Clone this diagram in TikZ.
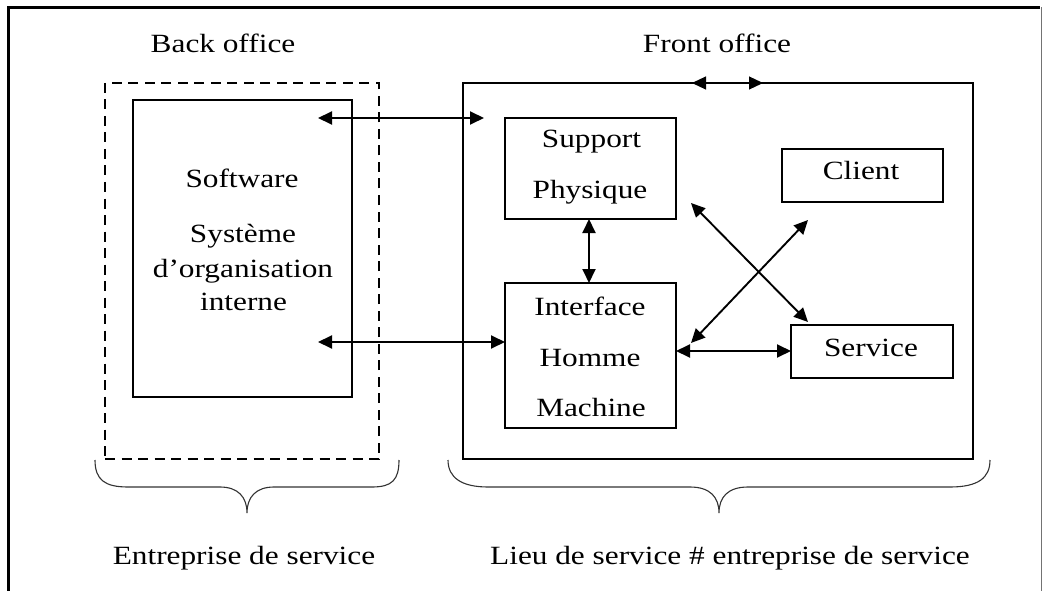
\documentclass[tikz,border=0pt]{standalone}
\usepackage{fontspec}
\setmainfont{Liberation Serif}[FakeStretch=1.19]
\usetikzlibrary{arrows.meta}
\tikzset{
  box/.style={draw, line width=1.4pt, inner sep=0pt, outer sep=0pt},
  dashbox/.style={draw, line width=1.6pt, dash pattern=on 10pt off 6.5pt, inner sep=0pt, outer sep=0pt},
  txt/.style={anchor=base, inner sep=0pt, font=\fontsize{26.3}{30}\selectfont},
  link/.style={line width=1.9pt, {Triangle[length=14pt,width=13pt]}-{Triangle[length=14pt,width=13pt]}},
  brace/.style={line width=1.1pt, draw=black!80},
}
\begin{document}
\begin{tikzpicture}[x=1pt, y=-1pt]
\useasboundingbox (0,0) rectangle (1042,591);
\fill[white] (0,0) rectangle (1042,591);

% outer frame (open at the bottom)
\draw[line width=3pt] (8.5,591) -- (8.5,7.5) -- (1040,7.5);
\draw[line width=1pt, draw=black!55] (1041,7.5) -- (1041,591);

% back office
\node[dashbox, minimum width=274pt, minimum height=376pt] (back) at (242,271) {};
\node[box, minimum width=219pt, minimum height=297pt] (soft) at (242.5,248.5) {};
\node[txt] (lback) at (223,53) {Back office};
\node[txt] (l1) at (242,187) {Software};
\node[txt] (l2) at (243,242) {Système};
\node[txt] (l3) at (243,277) {d’organisation};
\node[txt] (l4) at (243.5,310) {interne};

% front office
\node[box, minimum width=510pt, minimum height=376pt] (front) at (718,271) {};
\node[txt] (lfront) at (717,53) {Front office};

\node[box, minimum width=171pt, minimum height=101pt] (support) at (590.5,168.5) {};
\node[txt] (s1) at (591.5,148) {Support};
\node[txt] (s2) at (590,199) {Physique};

\node[box, minimum width=171pt, minimum height=145pt] (ihm) at (590.5,355.5) {};
\node[txt] (i1) at (590,315) {Interface};
\node[txt] (i2) at (590,366) {Homme};
\node[txt] (i3) at (591,416) {Machine};

\node[box, minimum width=161pt, minimum height=53pt] (client) at (862.5,175.5) {};
\node[txt] (c1) at (861,180) {Client};

\node[box, minimum width=162pt, minimum height=53pt] (service) at (872,351.5) {};
\node[txt] (v1) at (871,356) {Service};

% connector end points
\coordinate (a1) at (318,118);
\coordinate (b1) at (484,118);
\coordinate (a2) at (318,342);
\coordinate (t1) at (692,83);
\coordinate (t2) at (763,83);
\coordinate (d1) at (691,203);
\coordinate (d2) at (808,322);
\coordinate (d3) at (691,343);
\coordinate (d4) at (808,220);

% connectors
\draw[link] (a1) -- (b1);
\draw[link] (a2) -- (a2 -| ihm.west);
\draw[link] (support.south -| 589,0) -- (ihm.north -| 589,0);
\draw[link] (ihm.east |- 0,351) -- (service.west |- 0,351);
\draw[link] (d1) -- (d2);
\draw[link] (d3) -- (d4);
\draw[link, line width=1.2pt] (t1) -- (t2);

% braces
\draw[brace] (95,460) .. controls (95,480) and (105,487) .. (128,487)
  -- (220,487) .. controls (238,487) and (247,497) .. (247,513)
  .. controls (247,497) and (256,487) .. (274,487)
  -- (372,487) .. controls (392,487) and (399,480) .. (399,460);
\draw[brace] (448,460) .. controls (448,478) and (462,487) .. (488,487)
  -- (690,487) .. controls (710,487) and (719,497) .. (719,513)
  .. controls (719,497) and (728,487) .. (748,487)
  -- (950,487) .. controls (978,487) and (990,478) .. (990,460);

\node[txt] (lent) at (244,564) {Entreprise de service};
\node[txt] (llieu) at (730,564) {Lieu de service \# entreprise de service};
\end{tikzpicture}
\end{document}
